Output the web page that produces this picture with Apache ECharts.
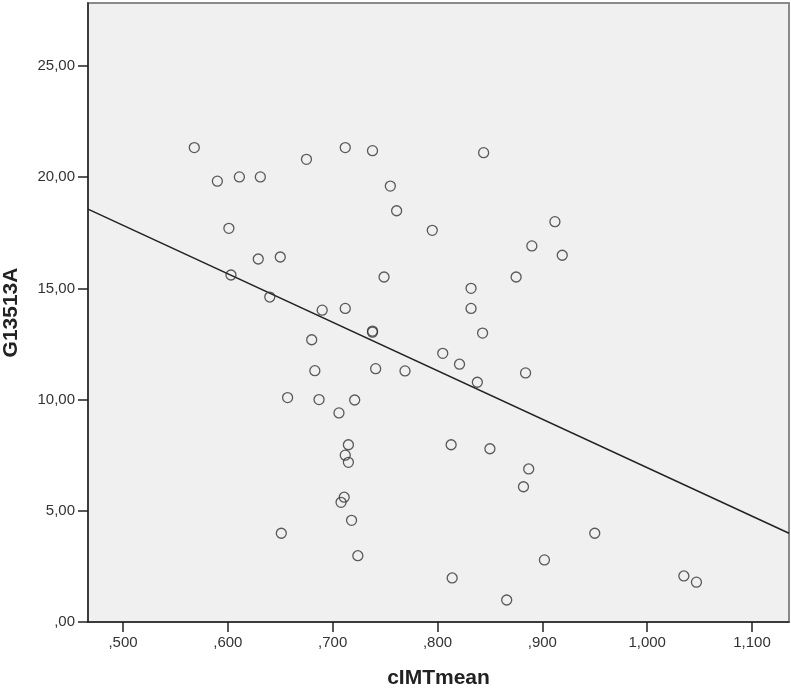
<!DOCTYPE html>
<html>
<head>
<meta charset="utf-8">
<script src="https://cdn.jsdelivr.net/npm/echarts@6/dist/echarts.min.js"></script>
<style>html,body{margin:0;padding:0;background:#fff}#c{width:791px;height:689px}</style>
</head>
<body>
<div id="c"></div>
<script>
// cIMTmean values
const xValues = [0.568,0.590,0.611,0.631,0.675,0.712,0.738,0.844,0.601,0.629,0.650,0.603,0.640,0.690,0.712,0.680,0.755,0.761,0.795,0.890,0.749,0.875,0.832,0.832,0.738,0.738,0.843,0.912,0.919,0.805,0.821,0.741,0.769,0.838,0.884,0.721,0.706,0.715,0.712,0.715,0.813,0.850,0.887,0.882,0.711,0.708,0.718,0.724,0.814,0.866,0.902,0.950,1.035,1.047,0.683,0.657,0.687,0.651];
// G13513A values
const yValues = [21.33,19.82,20.01,20.01,20.80,21.33,21.19,21.10,17.70,16.32,16.41,15.60,14.61,14.02,14.10,12.69,19.60,18.49,17.61,16.91,15.51,15.51,15.00,14.10,13.08,13.03,12.99,18.00,16.49,12.08,11.59,11.39,11.29,10.78,11.20,9.98,9.40,7.97,7.50,7.18,7.97,7.79,6.88,6.08,5.61,5.38,4.57,2.98,1.98,0.99,2.79,3.99,2.07,1.79,11.30,10.09,10.00,3.99];
// fit line endpoints (x, y)
const fitX = [0.4666, 1.1353];
const fitY = [18.56, 3.99];
const xTicks = [0.5,0.6,0.7,0.8,0.9,1.0,1.1];
const yTicks = [0,5,10,15,20,25];
const xRange = [0.4666, 1.1353];
const yRange = [0, 27.83];

const pts = xValues.map((x,i)=>[x, yValues[i]]);
const fitPts = fitX.map((x,i)=>[x, fitY[i]]);
const fmtX = v => { let s = v.toFixed(3).replace('.', ','); return s.startsWith('0') ? s.slice(1) : s; };
const fmtY = v => { let s = v.toFixed(2).replace('.', ','); return s.startsWith('0') ? s.slice(1) : s; };
const font = 'Arial, "Liberation Sans", sans-serif';

const chart = echarts.init(document.getElementById('c'));
chart.setOption({
  animation: false,
  backgroundColor: '#ffffff',
  grid: {left: 88, right: 2, top: 3, bottom: 67, containLabel: false, outerBoundsMode: 'none',
         show: true, backgroundColor: '#f0f0f0', borderColor: '#8a8a8a', borderWidth: 2},
  xAxis: {
    type: 'value', min: xRange[0], max: xRange[1],
    name: 'cIMTmean', nameLocation: 'middle', nameGap: 46,
    nameTextStyle: {fontFamily: font, fontWeight: 'bold', fontSize: 21, color: '#222'},
    axisLine: {show: true, onZero: false, lineStyle: {color: '#222', width: 1.5}},
    axisTick: {show: true, length: 10, customValues: xTicks, lineStyle: {color: '#222', width: 1.5}},
    axisLabel: {customValues: xTicks, formatter: fmtX, margin: 13, fontFamily: font, fontSize: 15, color: '#333'},
    splitLine: {show: false}
  },
  yAxis: {
    type: 'value', min: yRange[0], max: yRange[1],
    name: 'G13513A', nameLocation: 'middle', nameGap: 66,
    nameTextStyle: {fontFamily: font, fontWeight: 'bold', fontSize: 21, color: '#222'},
    axisLine: {show: true, onZero: false, lineStyle: {color: '#222', width: 1.5}},
    axisTick: {show: true, length: 10, customValues: yTicks, lineStyle: {color: '#222', width: 1.5}},
    axisLabel: {customValues: yTicks, formatter: fmtY, margin: 13, fontFamily: font, fontSize: 15, color: '#333'},
    splitLine: {show: false}
  },
  series: [
    {type: 'line', data: fitPts, symbol: 'none', lineStyle: {color: '#222', width: 1.5}, silent: true, z: 1},
    {type: 'scatter', data: pts, symbol: 'circle', symbolSize: 10,
     itemStyle: {color: 'rgba(0,0,0,0)', borderColor: '#333', borderWidth: 1.3}, z: 2}
  ]
});
</script>
</body>
</html>
